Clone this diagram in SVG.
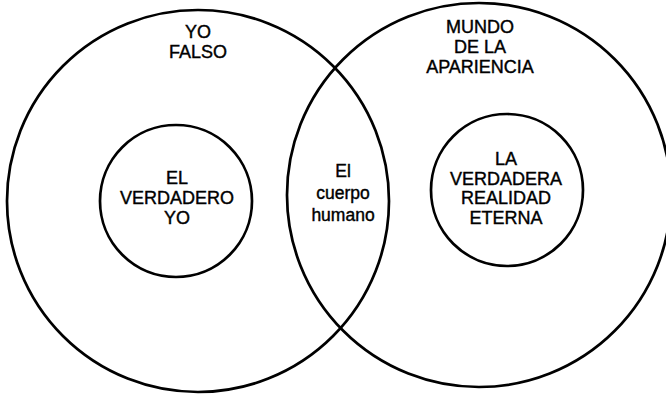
<svg xmlns="http://www.w3.org/2000/svg" width="666" height="395" viewBox="0 0 666 395">
<style>
.c{fill:none;stroke:#000;stroke-width:2.7}
text{font-family:"Liberation Sans",Arial,sans-serif;font-size:18px;fill:#000;stroke:#000;stroke-width:0.4;text-anchor:middle}
.s{font-size:17.5px}
</style>
<rect width="666" height="395" fill="#fff"/>
<g id="yo-falso">
<circle class="c" cx="198" cy="201" r="191"/>
<text x="198" y="38">YO</text>
<text x="198" y="58">FALSO</text>
</g>
<g id="mundo-apariencia">
<circle class="c" cx="479" cy="195" r="192"/>
<text x="480" y="33">MUNDO</text>
<text x="480" y="53">DE LA</text>
<text x="480" y="73">APARIENCIA</text>
</g>
<g id="verdadero-yo">
<circle class="c" cx="176" cy="201" r="76"/>
<text x="177" y="184">EL</text>
<text x="177" y="204">VERDADERO</text>
<text x="177" y="224">YO</text>
</g>
<g id="realidad-eterna">
<circle class="c" cx="507" cy="190" r="76"/>
<text x="506" y="165">LA</text>
<text x="506" y="184.5">VERDADERA</text>
<text x="506" y="204">REALIDAD</text>
<text x="506" y="223.5">ETERNA</text>
</g>
<g id="cuerpo-humano">
<text class="s" x="343" y="177">El</text>
<text class="s" x="343" y="199">cuerpo</text>
<text class="s" x="343" y="221">humano</text>
</g>
</svg>
